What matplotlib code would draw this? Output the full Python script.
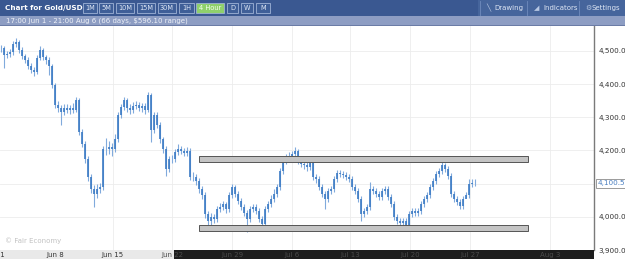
import numpy as np
import matplotlib
matplotlib.use('Agg')
import matplotlib.pyplot as plt
from matplotlib.patches import Rectangle
from matplotlib.transforms import blended_transform_factory

# 4 hour bars (price)
high = [4518, 4515, 4500, 4506, 4530, 4539, 4533, 4512, 4491, 4482, 4464, 4452, 4488, 4515, 4509, 4488,
        4482, 4461, 4404, 4350, 4338, 4341, 4341, 4338, 4344, 4362, 4359, 4266, 4227, 4182, 4128, 4095,
        4098, 4101, 4212, 4239, 4227, 4221, 4251, 4317, 4341, 4362, 4359, 4341, 4347, 4350, 4347, 4344,
        4344, 4377, 4374, 4317, 4317, 4287, 4242, 4212, 4182, 4185, 4203, 4218, 4212, 4206, 4209, 4206,
        4134, 4128, 4116, 4092, 4074, 4017, 4011, 4008, 4032, 4041, 4047, 4044, 4074, 4098, 4095, 4077,
        4056, 4038, 4020, 4032, 4038, 4038, 4026, 4002, 4032, 4047, 4065, 4083, 4098, 4146, 4176, 4188,
        4194, 4197, 4209, 4203, 4176, 4167, 4164, 4176, 4173, 4128, 4122, 4098, 4077, 4086, 4092, 4122,
        4140, 4140, 4137, 4134, 4128, 4122, 4098, 4086, 4062, 4026, 4038, 4104, 4092, 4086, 4077, 4086,
        4092, 4092, 4068, 4047, 4008, 3996, 3996, 3996, 4017, 4026, 4026, 4026, 4047, 4062, 4074, 4098,
        4116, 4137, 4146, 4164, 4161, 4152, 4131, 4077, 4062, 4053, 4062, 4074, 4113, 4113, 4113]
low = [4497, 4449, 4479, 4482, 4488, 4512, 4494, 4476, 4464, 4446, 4434, 4425, 4431, 4473, 4473, 4461,
       4428, 4389, 4329, 4317, 4278, 4308, 4314, 4311, 4314, 4317, 4248, 4209, 4161, 4107, 4071, 4029,
       4056, 4071, 4080, 4185, 4188, 4182, 4194, 4224, 4299, 4323, 4317, 4311, 4314, 4326, 4320, 4317,
       4311, 4317, 4224, 4254, 4269, 4221, 4191, 4122, 4134, 4161, 4164, 4185, 4188, 4182, 4182, 4110,
       4107, 4095, 4071, 4053, 3996, 3963, 3975, 3981, 3984, 4014, 4020, 4011, 4014, 4056, 4059, 4038,
       4020, 4002, 3954, 3984, 4014, 4008, 3984, 3963, 3969, 4014, 4029, 4044, 4059, 4080, 4128, 4158,
       4170, 4173, 4179, 4158, 4149, 4143, 4137, 4140, 4110, 4101, 4080, 4059, 4023, 4044, 4068, 4074,
       4104, 4119, 4116, 4110, 4104, 4080, 4068, 4044, 3987, 3999, 4008, 4020, 4068, 4059, 4050, 4050,
       4068, 4050, 4029, 3990, 3978, 3972, 3972, 3960, 3966, 3999, 4002, 4002, 4008, 4029, 4044, 4056,
       4080, 4098, 4119, 4128, 4134, 4113, 4059, 4044, 4035, 4023, 4023, 4056, 4056, 4089, 4092]
close = [4509, 4488, 4491, 4497, 4521, 4527, 4503, 4485, 4473, 4455, 4443, 4437, 4479, 4503, 4482, 4473,
         4455, 4398, 4338, 4329, 4317, 4329, 4323, 4329, 4323, 4353, 4257, 4218, 4173, 4119, 4083, 4068,
         4083, 4089, 4203, 4203, 4209, 4203, 4233, 4308, 4332, 4353, 4329, 4323, 4335, 4338, 4329, 4335,
         4323, 4368, 4263, 4308, 4278, 4233, 4203, 4143, 4173, 4173, 4194, 4203, 4197, 4191, 4197, 4119,
         4119, 4107, 4083, 4065, 4008, 3987, 3999, 3993, 4023, 4029, 4038, 4023, 4065, 4089, 4068, 4047,
         4029, 4011, 3993, 4023, 4029, 4017, 3993, 3978, 4023, 4038, 4053, 4068, 4089, 4137, 4167, 4179,
         4182, 4188, 4197, 4167, 4158, 4155, 4149, 4167, 4119, 4113, 4089, 4068, 4053, 4077, 4083, 4113,
         4131, 4128, 4125, 4119, 4113, 4089, 4077, 4053, 4008, 4017, 4029, 4083, 4077, 4068, 4059, 4077,
         4083, 4059, 4038, 3999, 3987, 3981, 3987, 3975, 4008, 4017, 4011, 4017, 4038, 4053, 4065, 4089,
         4107, 4128, 4137, 4155, 4143, 4122, 4068, 4053, 4044, 4032, 4053, 4065, 4098, 4101, 4100.5]

last_price = 4100.5
price_ticks = [3900, 4000, 4100, 4200, 4300, 4400, 4500]
date_labels = ['Jun 1', 'Jun 8', 'Jun 15', 'Jun 22', 'Jun 29', 'Jul 6', 'Jul 13', 'Jul 20', 'Jul 27', 'Aug 3']
date_pos = [-1.6, 18.0, 37.3, 57.0, 77.0, 97.0, 116.3, 136.3, 156.3, 183.0]
resistance = (4164, 4182)
support = (3957, 3975)
zone_start, zone_end = 66.0, 175.7
timeframes = ['1M', '5M', '10M', '15M', '30M', '1H', '4 Hour', 'D', 'W', 'M']
active_tf = '4 Hour'

W, H = 625, 259
fig = plt.figure(figsize=(6.25, 2.59), dpi=100)
fig.patch.set_facecolor('white')

# main price panel
ax = fig.add_axes([0, 9 / H, 594 / W, 224 / H])
ax.set_xlim(-0.33, 197.67)
ax.set_ylim(3900, 4575)
ax.set_facecolor('white')
for s in ['top', 'left', 'bottom']:
    ax.spines[s].set_visible(False)
ax.spines['right'].set_color('#7a7a7a')
ax.spines['right'].set_linewidth(1.0)
ax.set_xticks([])
ax.yaxis.tick_right()
ax.set_yticks(price_ticks)
ax.set_yticklabels(['{:,.1f}'.format(p) for p in price_ticks])
ax.tick_params(axis='y', length=0, pad=3, labelsize=5.2, labelcolor='#333333')
for p in price_ticks:
    ax.axhline(p, color='#ececec', lw=0.6, zorder=0)
for d in date_pos[2:]:
    ax.axvline(d, color='#ececec', lw=0.6, zorder=0)

xs = np.arange(len(close))
opens = [close[0]] + close[:-1]
ax.vlines(xs, low, high, color='#80aadc', lw=0.8, zorder=2)
ax.vlines(xs, np.minimum(opens, close), np.maximum(opens, close), color='#3b7ac4', lw=1.2, zorder=3)

# support / resistance boxes
for lo_, hi_ in [resistance, support]:
    ax.add_patch(Rectangle((zone_start, lo_), zone_end - zone_start, hi_ - lo_,
                           facecolor='#c4c4c4', edgecolor='#555555', lw=0.7, zorder=4))

ax.text(0.008, 0.03, '\u00a9 Fair Economy', transform=ax.transAxes, fontsize=5, color='#c2c2c2')

trans = blended_transform_factory(ax.transAxes, ax.transData)
ax.text(1.006, last_price, '{:,.1f}'.format(last_price), transform=trans, fontsize=5.2,
        color='#4a7fc0', va='center', ha='left', clip_on=False,
        bbox=dict(facecolor='white', edgecolor='#8a8a8a', lw=0.6, pad=1.2), zorder=6)

# date strip
axx = fig.add_axes([0, 0, 594 / W, 9 / H])
axx.set_xlim(ax.get_xlim())
axx.set_ylim(0, 1)
axx.axis('off')
axx.add_patch(Rectangle((-1, 0), 200, 1, facecolor='#e9e9e9', edgecolor='none'))
axx.add_patch(Rectangle((57.8, 0), 150, 1, facecolor='#1d1d1d', edgecolor='none'))
for lab, pos in zip(date_labels, date_pos):
    axx.text(pos, 0.45, lab, fontsize=5, ha='center', va='center',
             color='#333333' if pos < 57 else '#4a4a4a', clip_on=True)

# header bars
hx = fig.add_axes([0, 1 - 26 / H, 1, 26 / H])
hx.set_xlim(0, W)
hx.set_ylim(26, 0)
hx.axis('off')
hx.add_patch(Rectangle((0, 0), W, 15.5, facecolor='#3a5891', edgecolor='none'))
hx.add_patch(Rectangle((478, 0), W - 478, 15.5, facecolor='#46659c', edgecolor='none'))
hx.add_patch(Rectangle((0, 15.5), W, 10, facecolor='#8d9dc3', edgecolor='none'))
hx.add_patch(Rectangle((0, 25), W, 1, facecolor='#6b7ca6', edgecolor='none'))
hx.text(5, 7.8, 'Chart for Gold/USD', fontsize=5.2, fontweight='bold', color='white', va='center')

btn_x = [83, 99, 116, 137, 158, 179, 196, 227, 241, 256]
btn_w = [14, 14, 18, 18, 18, 15, 28, 11, 12, 14]
for tf, bx, bw in zip(timeframes, btn_x, btn_w):
    on = tf == active_tf
    hx.add_patch(Rectangle((bx, 3), bw, 10, facecolor='#8fd06c' if on else '#3f5f98',
                           edgecolor='#9fb3d6', lw=0.6))
    hx.text(bx + bw / 2, 8.2, tf, fontsize=4.8, ha='center', va='center',
            color='#f4fff0' if on else '#dfe7f5')

for sx in [480, 527, 579]:
    hx.plot([sx, sx], [1, 14.5], color='#6f8bbd', lw=0.6)
hx.text(494, 7.8, 'Drawing', fontsize=5, color='#dfe7f5', va='center')
hx.text(486, 7.8, '\u2572', fontsize=5, color='#b8c8e4', va='center')
hx.text(543, 7.8, 'Indicators', fontsize=5, color='#dfe7f5', va='center')
hx.text(534, 7.8, '\u25e2', fontsize=5, color='#b8c8e4', va='center')
hx.text(592, 7.8, 'Settings', fontsize=5, color='#dfe7f5', va='center')
hx.text(585, 7.8, '\u2699', fontsize=5, color='#b8c8e4', va='center')
hx.text(6, 20.5, '17:00 Jun 1 - 21:00 Aug 6 (66 days, $596.10 range)', fontsize=5,
        color='#eef1f8', va='center')

fig.savefig('out.png', dpi=100)
